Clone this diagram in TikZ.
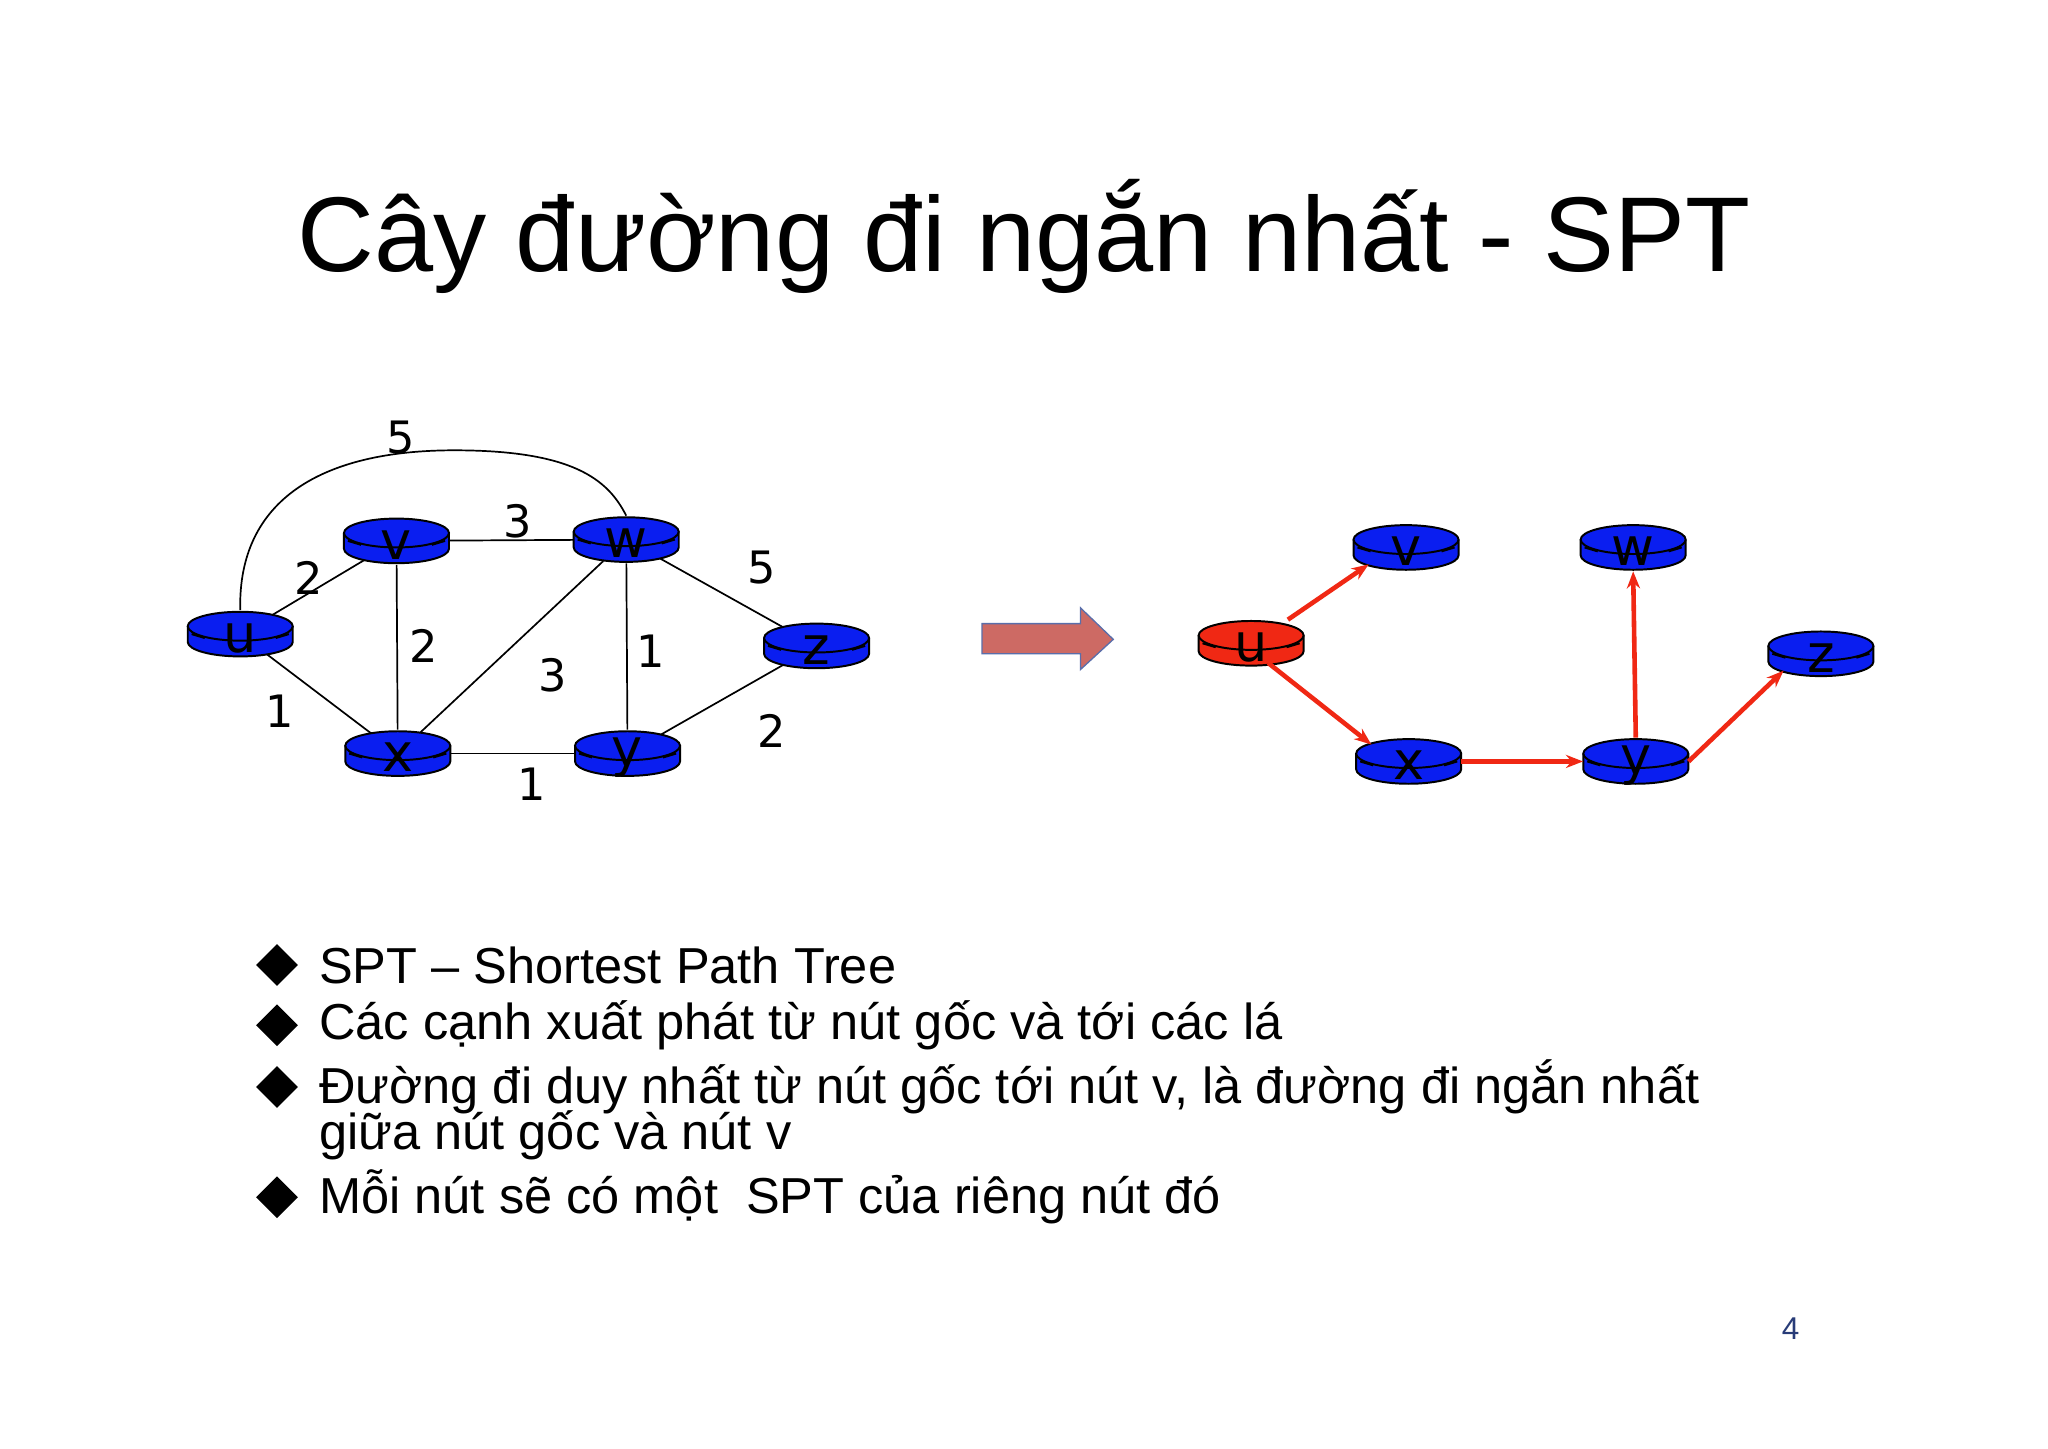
\documentclass[tikz,border=0pt]{standalone}
\usepackage{fontspec}
\setmainfont{Liberation Sans}
\newfontfamily\lblfont{DejaVu Sans}
\usetikzlibrary{shapes.geometric,arrows.meta}
\begin{document}
\begin{tikzpicture}[x=1pt,y=-1pt,
  rt/.style={ellipse,minimum width=80pt,minimum height=36pt,inner sep=0pt},
  edge/.style={line width=1.3pt},
  redarr/.style={draw={rgb,255:red,240;green,40;blue,20},line width=3.5pt,-{Stealth[length=13pt,width=10pt]}},
  wt/.style={font=\lblfont\fontsize{34}{34}\selectfont},
  bul/.style={anchor=west,font=\fontsize{38.5}{40}\selectfont,inner sep=0pt},
  dia/.style={diamond,fill=black,inner sep=0pt,minimum width=32pt,minimum height=32pt}]
\useasboundingbox (0,0) rectangle (1560,1103);
\fill[white] (0,0) rectangle (1560,1103);
\def\router#1#2#3#4{% x y col label
  \begin{scope}[shift={(#1-4,#2)}]
  \path[fill=#3,draw=black,line width=1.5pt] (-40,-6) -- (-40,6) arc[start angle=180,end angle=0,x radius=40,y radius=11] -- (40,-6);
  \path[fill=#3,draw=black,line width=1.5pt] (0,-6) ellipse[x radius=40,y radius=11];
  \draw[line width=1.5pt] (-37,0)--(-27,3) (27,3)--(37,0);
  \node[font=\lblfont\fontsize{40}{40}\selectfont] at (0,3) {#4};
  \end{scope}}
\definecolor{rb}{RGB}{10,30,240}
\definecolor{rr}{RGB}{240,40,20}
\node[font=\fontsize{81}{90}\selectfont] (title) at (780,180) {Cây đường đi ngắn nhất - SPT};
% left graph nodes
\node[rt] (u) at (183,483) {}; \node[rt] (v) at (302,412) {}; \node[rt] (w) at (477,411) {};
\node[rt] (z) at (622,492) {}; \node[rt] (x) at (303,574) {}; \node[rt] (y) at (478,574) {};
\draw[edge] (u)--(v); \draw[edge] (u)--(x); \draw[edge] (v)--(w); \draw[edge] (v)--(x);
\draw[edge] (x)--(w); \draw[edge] (w)--(y); \draw[edge] (x)--(y); \draw[edge] (w)--(z); \draw[edge] (y)--(z);
\draw[edge] (u.north) .. controls (181,380) and (246,343) .. (346,343) .. controls (436,343) and (463,365) .. (w.north);
\router{187}{483}{rb}{u}\router{306}{412}{rb}{v}\router{481}{411}{rb}{w}
\router{626}{492}{rb}{z}\router{307}{574}{rb}{x}\router{482}{574}{rb}{y}
\node[wt] (l1) at (305,333) {5}; \node[wt] (l2) at (394,397) {3}; \node[wt] (l3) at (235,440) {2};
\node[wt] (l4) at (580,432) {5}; \node[wt] (l5) at (323,492) {2}; \node[wt] (l6) at (421,514) {3};
\node[wt] (l7) at (496,496) {1}; \node[wt] (l8) at (213,542) {1}; \node[wt] (l9) at (405,597) {1};
\node[wt] (l10) at (588,557) {2};
% arrow
\draw[fill={rgb,255:red,205;green,106;blue,100},draw={rgb,255:red,90;green,110;blue,170},line width=1pt]
 (748,475)--(823,475)--(823,463)--(848,487)--(823,510)--(823,498)--(748,498)--cycle;
% right tree
\node[rt] (u2) at (953,490) {}; \node[rt] (v2) at (1071,417) {}; \node[rt] (w2) at (1244,417) {};
\node[rt] (z2) at (1387,498) {}; \node[rt] (x2) at (1073,580) {}; \node[rt] (y2) at (1246,580) {};
\router{957}{490}{rr}{u}\router{1075}{417}{rb}{v}\router{1248}{417}{rb}{w}
\router{1391}{498}{rb}{z}\router{1077}{580}{rb}{x}\router{1250}{580}{rb}{y}
\draw[redarr] (981,472) -- (v2.south west);
\draw[redarr] (966,505) -- (x2.north west);
\draw[redarr] (x2.east) -- (y2.west);
\draw[redarr] (y2.north) -- (w2.south);
\draw[redarr] (y2.east) -- (z2.south west);
% bullets
\node[dia] (d1) at (211,735) {}; \node[bul] (b1) at (243,735) {SPT – Shortest Path Tree};
\node[dia] (d2) at (211,781) {}; \node[bul] (b2) at (243,781) {Các cạnh xuất phát từ nút gốc và tới các lá};
\node[dia] (d3) at (211,828) {}; \node[bul] (b3) at (243,828) {Đường đi duy nhất từ nút gốc tới nút v, là đường đi ngắn nhất};
\node[bul] (b3b) at (243,865) {giữa nút gốc và nút v};
\node[dia] (d4) at (211,912) {}; \node[bul] (b4) at (243,912) {Mỗi nút sẽ có một \ SPT của riêng nút đó};
\node[font=\fontsize{24}{24}\selectfont,text={rgb,255:red,40;green,60;blue,120}] (pg) at (1364,1012) {4};
\end{tikzpicture}
\end{document}
